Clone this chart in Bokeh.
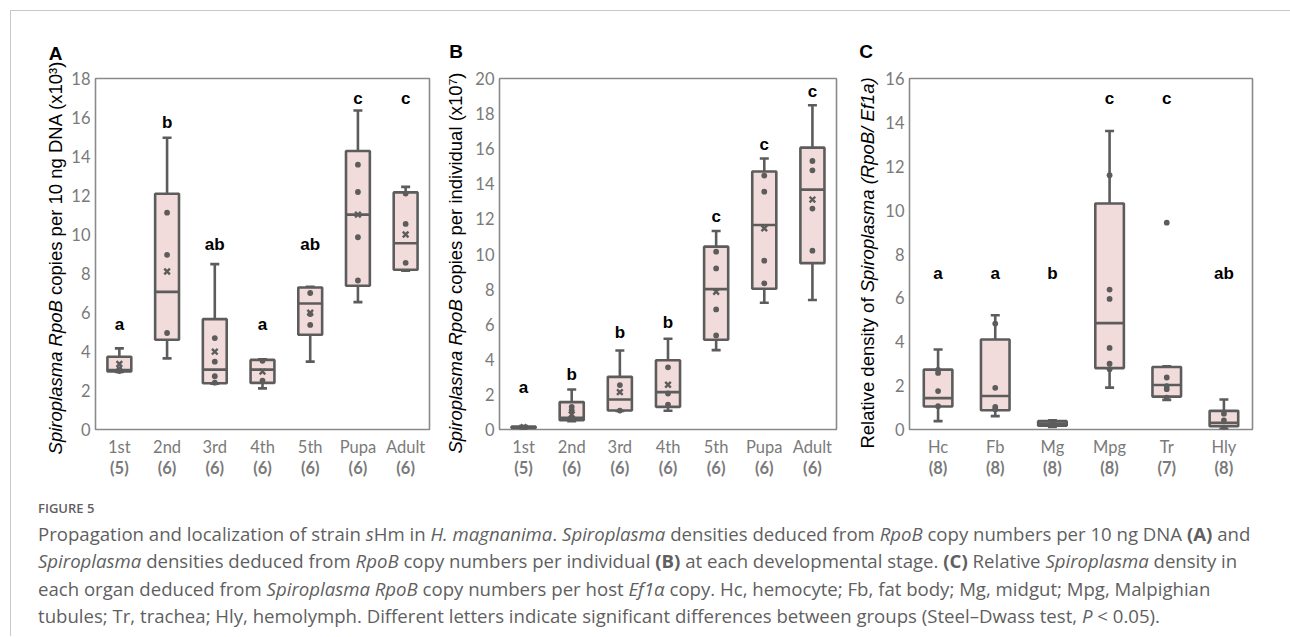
import math
from bokeh.plotting import figure
from bokeh.models import Range1d, FixedTicker, LinearAxis, Div
from bokeh.layouts import row, column
from bokeh.core.properties import value
from bokeh.embed import file_html
from bokeh.resources import INLINE

# ---------------- data ----------------
stages = ["1st", "2nd", "3rd", "4th", "5th", "Pupa", "Adult"]
stage_n = ["(5)", "(6)", "(6)", "(6)", "(6)", "(6)", "(6)"]

# Panel A: RpoB copies per 10 ng DNA (x10^3)
A_lo = [2.95, 3.65, 2.35, 2.11, 3.48, 6.53, 8.15]
A_q1 = [2.98, 4.60, 2.37, 2.39, 4.86, 7.37, 8.19]
A_med = [3.05, 7.06, 3.07, 3.07, 6.46, 11.02, 9.55]
A_q3 = [3.73, 12.09, 5.66, 3.57, 7.28, 14.28, 12.16]
A_hi = [4.16, 14.96, 8.48, 3.60, 7.32, 16.36, 12.44]
A_mean = [3.36, 8.10, 3.99, 2.97, 5.99, 11.02, 10.00]
A_pts = [[3.10, 3.00], [11.12, 8.96, 4.95], [4.69, 3.48, 2.73, 2.40], [3.52, 2.51],
         [7.00, 5.92, 5.36], [13.58, 12.18, 9.86, 7.64], [12.10, 10.54, 8.55]]
A_letters = ["a", "b", "ab", "a", "ab", "c", "c"]
A_letter_y = [5.37, 15.72, 9.47, 5.37, 9.47, 16.97, 16.97]

# Panel B: RpoB copies per individual (x10^7)
B_lo = [0.05, 0.47, 1.05, 1.07, 4.52, 7.22, 7.38]
B_q1 = [0.08, 0.53, 1.08, 1.29, 5.11, 8.02, 9.48]
B_med = [0.12, 0.67, 1.71, 2.13, 8.00, 11.65, 13.67]
B_q3 = [0.17, 1.56, 3.00, 3.95, 10.42, 14.70, 16.06]
B_hi = [0.20, 2.28, 4.50, 5.17, 11.31, 15.44, 18.48]
B_mean = [0.13, 0.86, 2.13, 2.55, 7.85, 11.46, 13.10]
B_pts = [[0.10], [1.29, 1.10, 0.60], [2.53, 1.08], [3.54, 2.05, 1.41],
         [10.13, 9.18, 6.84, 5.36], [14.47, 13.55, 9.62, 8.33], [15.30, 14.77, 12.59, 10.19]]
B_letters = ["a", "b", "b", "b", "c", "c", "c"]
B_letter_y = [2.41, 3.14, 5.55, 6.08, 12.13, 16.25, 19.24]

# Panel C: relative density (RpoB / Ef1a)
organs = ["Hc", "Fb", "Mg", "Mpg", "Tr", "Hly"]
organ_n = ["(8)", "(8)", "(8)", "(8)", "(7)", "(8)"]
C_lo = [0.38, 0.61, 0.12, 1.91, 1.35, 0.03]
C_q1 = [1.05, 0.88, 0.17, 2.80, 1.50, 0.15]
C_med = [1.43, 1.53, 0.27, 4.85, 2.03, 0.30]
C_q3 = [2.73, 4.10, 0.38, 10.30, 2.85, 0.85]
C_hi = [3.65, 5.21, 0.42, 13.61, 2.88, 1.37]
C_pts = [[2.72, 2.58, 1.75, 1.06], [4.83, 1.90, 1.03, 0.92], [0.28, 0.24],
         [11.59, 6.38, 5.95, 3.72, 3.00, 2.75], [9.43, 2.37, 1.98, 1.84, 1.45], [0.72, 0.42, 0.08]]
C_letters = ["a", "a", "b", "c", "c", "ab"]
C_letter_y = [7.11, 7.11, 7.11, 15.11, 15.11, 7.11]

# ---------------- styling ----------------
LINE = "#5c5c5c"
FILL = "#f2dcdb"
TICK = "#7a7a7a"
FIG_H = 480


def make_strip(width, title_html, title_c, panel_letter, letter_c):
    """HTML strip holding the rotated y title (mixed italics) and the panel letter."""
    html = (
        f"<div style=\"position:relative;width:{width}px;height:{FIG_H}px;\">"
        f"<div style=\"position:absolute;left:{title_c[0]}px;top:{title_c[1]}px;"
        "transform:translate(-50%,-50%) rotate(-90deg);white-space:nowrap;"
        "font-family:'Liberation Sans',Arial,sans-serif;font-size:18.5px;color:#000;"
        f"line-height:20px;\">{title_html}</div>"
        f"<div style=\"position:absolute;left:{letter_c[0]}px;top:{letter_c[1]}px;"
        "transform:translate(-50%,-50%);font-family:'Liberation Sans',Arial,sans-serif;"
        f"font-weight:bold;font-size:19px;line-height:20px;color:#000;\">{panel_letter}</div>"
        "</div>"
    )
    return Div(text=html, width=width, height=FIG_H, margin=0)


def make_panel(g, cats, ns, lo, q1, med, q3, hi, mean, pts, letters, letter_y):
    n = len(cats)
    p = figure(width=g["left"] + g["fw"] + g["right"], height=FIG_H,
               x_range=Range1d(0.5, n + 0.5), y_range=Range1d(0, g["ymax"]),
               output_backend="svg", toolbar_location=None, title_location=None,
               min_border_left=g["left"], min_border_right=g["right"],
               min_border_top=67, min_border_bottom=FIG_H - 67 - 351,
               background_fill_color="white", border_fill_color="white",
               outline_line_color="#8a8a8a", outline_line_width=1.6)
    p.xgrid.grid_line_color = None
    p.ygrid.grid_line_color = None

    xs = list(range(1, n + 1))
    ya = p.yaxis[0]
    ya.ticker = FixedTicker(ticks=list(range(0, g["ymax"] + 1, 2)))
    xa = p.xaxis[0]
    xa.ticker = FixedTicker(ticks=xs)
    xa.major_label_overrides = {i: c for i, c in zip(xs, cats)}
    xa2 = LinearAxis(ticker=FixedTicker(ticks=xs),
                     major_label_overrides={i: c for i, c in zip(xs, ns)})
    p.add_layout(xa2, "below")
    for ax in (ya, xa, xa2):
        ax.axis_line_color = None
        ax.major_tick_line_color = None
        ax.minor_tick_line_color = None
        ax.major_tick_out = 0
        ax.major_tick_in = 0
        ax.axis_label_standoff = 0
        ax.major_label_text_font = "Lato"
        ax.major_label_text_font_size = "16.5px"
        ax.major_label_text_color = TICK
    ya.major_label_standoff = 5
    xa.major_label_standoff = 7
    xa2.major_label_standoff = -2
    xa2.major_label_text_font_style = "bold"

    # whiskers
    p.segment(x0=xs, y0=q3, x1=xs, y1=hi, line_color=LINE, line_width=2.6)
    p.segment(x0=xs, y0=lo, x1=xs, y1=q1, line_color=LINE, line_width=2.6)
    p.scatter(x=xs, y=hi, marker="dash", size=9, line_color=LINE, line_width=2.6)
    p.scatter(x=xs, y=lo, marker="dash", size=9, line_color=LINE, line_width=2.6)
    # boxes
    p.vbar(x=xs, width=0.5, bottom=q1, top=q3, fill_color=FILL,
           line_color=LINE, line_width=2.6)
    p.segment(x0=[x - 0.25 for x in xs], y0=med, x1=[x + 0.25 for x in xs], y1=med,
              line_color=LINE, line_width=2.6)
    # individual points
    px, py = [], []
    for x, vals in zip(xs, pts):
        for v in vals:
            px.append(x)
            py.append(v)
    p.scatter(x=px, y=py, size=5.8, fill_color=LINE, line_color=None)
    # means
    if mean is not None:
        p.scatter(x=xs, y=mean, marker="x", size=8, line_color=LINE, line_width=2.4)
    # significance letters
    p.text(x=xs, y=letter_y, text=letters, text_font=value("Liberation Sans"),
           text_font_style="bold", text_font_size="17px", text_align="center",
           text_baseline="middle", text_color="black")
    return p


gA = dict(left=25, fw=336, right=12, ymax=18)
gB = dict(left=32, fw=337, right=15, ymax=20)
gC = dict(left=29, fw=343, right=38, ymax=16)

sA = make_strip(57, "<i>Spiroplasma RpoB</i> copies per 10 ng DNA (x10³)",
                (45, 246.5), "A", (44.5, 42.5))
pA = make_panel(gA, stages, stage_n, A_lo, A_q1, A_med, A_q3, A_hi, A_mean, A_pts,
                A_letters, A_letter_y)
sB = make_strip(26, "<i>Spiroplasma RpoB</i> copies per individual (x10⁷)",
                (14.5, 252), "B", (15, 41))
pB = make_panel(gB, stages, stage_n, B_lo, B_q1, B_med, B_q3, B_hi, B_mean, B_pts,
                B_letters, B_letter_y)
sC = make_strip(29, "Relative density of <i>Spiroplasma (RpoB/ Ef1a)</i>",
                (17, 252), "C", (15, 41))
pC = make_panel(gC, organs, organ_n, C_lo, C_q1, C_med, C_q3, C_hi, None, C_pts,
                C_letters, C_letter_y)

cap_lines = [
    "Propagation and localization of strain <i>s</i>Hm in <i>H. magnanima</i>. <i>Spiroplasma</i> densities deduced from <i>RpoB</i> copy numbers per 10 ng DNA <b>(A)</b> and",
    "<i>Spiroplasma</i> densities deduced from <i>RpoB</i> copy numbers per individual <b>(B)</b> at each developmental stage. <b>(C)</b> Relative <i>Spiroplasma</i> density in",
    "each organ deduced from <i>Spiroplasma RpoB</i> copy numbers per host <i>Ef1&alpha;</i> copy. Hc, hemocyte; Fb, fat body; Mg, midgut; Mpg, Malpighian",
    "tubules; Tr, trachea; Hly, hemolymph. Different letters indicate significant differences between groups (Steel&ndash;Dwass test, <i>P</i> &lt; 0.05).",
]
cap_html = (
    "<div style=\"font-family:'Open Sans',sans-serif;color:#5f5f5f;padding-left:27px;padding-top:6px;\">"
    "<div style=\"font-size:13px;font-weight:600;height:22px;line-height:22px;\">FIGURE 5</div>"
    "<div style=\"font-size:18.6px;line-height:27.3px;white-space:nowrap;margin-top:1px;\">"
    + "<br>".join(cap_lines) + "</div></div>"
)
cap = Div(text=cap_html, width=1279, height=145, margin=0)

layout = column(row(sA, pA, sB, pB, sC, pC, spacing=0), cap, spacing=0,
                styles={"border-top": "1px solid #c8c8c8", "border-left": "1px solid #c8c8c8",
                        "margin-left": "10px", "margin-top": "10px"})

open("out.html", "w").write(file_html(layout, INLINE))
